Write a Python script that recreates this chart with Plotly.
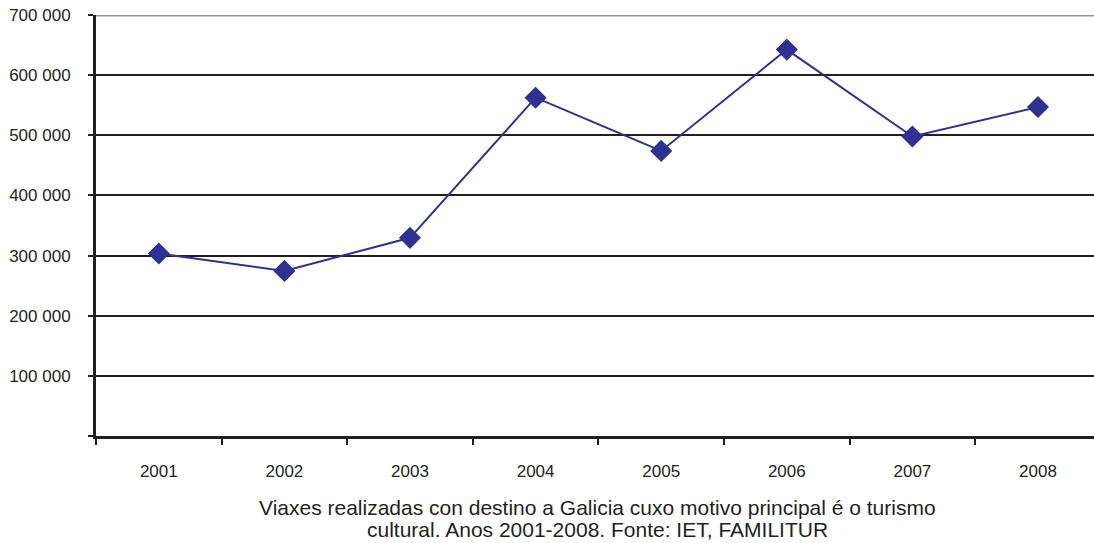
import plotly.graph_objects as go

years = ["2001", "2002", "2003", "2004", "2005", "2006", "2007", "2008"]
trips = [303500, 274500, 329500, 562500, 474000, 642500, 498000, 547000]
y_ticks = [0, 100000, 200000, 300000, 400000, 500000, 600000, 700000]
y_tick_labels = ["", "100 000", "200 000", "300 000", "400 000", "500 000", "600 000", "700 000"]
caption_lines = [
    "Viaxes realizadas con destino a Galicia cuxo motivo principal é o turismo",
    "cultural. Anos 2001-2008. Fonte: IET, FAMILITUR",
]

ink = "#231f20"
fig = go.Figure()
fig.add_trace(go.Scatter(
    x=years, y=trips, mode="lines+markers",
    line=dict(color="#2e3192", width=2),
    marker=dict(symbol="diamond", size=17, color="#2e3192"),
    cliponaxis=False,
))
fig.add_shape(type="line", xref="paper", yref="y", x0=0, x1=1, y0=700000, y1=700000,
              line=dict(color="#939393", width=3), layer="below")

annotations = []
for i, line in enumerate(caption_lines):
    annotations.append(dict(
        text=line, xref="paper", yref="paper", x=0.503, y=0, yshift=-71 - 22 * i,
        xanchor="center", yanchor="middle", showarrow=False,
        font=dict(size=21, color=ink),
    ))

fig.update_layout(
    width=1094, height=543,
    margin=dict(l=96, r=0, t=15, b=107),
    paper_bgcolor="white", plot_bgcolor="white",
    showlegend=False,
    font=dict(family="Liberation Sans, Arial, sans-serif", size=17, color=ink),
    xaxis=dict(
        type="category", range=[-0.5, 7.446],
        tickson="boundaries", ticks="outside", ticklen=6, tickwidth=2, tickcolor=ink,
        showgrid=False, showline=True, linecolor=ink, linewidth=3,
        ticklabelstandoff=18, tickfont=dict(size=17, color=ink),
    ),
    yaxis=dict(
        range=[0, 700000], tickvals=y_ticks, ticktext=y_tick_labels,
        ticks="outside", ticklen=5, tickwidth=2, tickcolor=ink,
        showgrid=True, gridcolor=ink, gridwidth=2,
        showline=True, linecolor=ink, linewidth=3, zeroline=False,
        ticklabelstandoff=14, tickfont=dict(size=17, color=ink),
    ),
    annotations=annotations,
)
fig.write_html("out.html", config={"displayModeBar": False},
               post_script="document.body.style.margin='0';document.body.style.overflow='hidden';")
